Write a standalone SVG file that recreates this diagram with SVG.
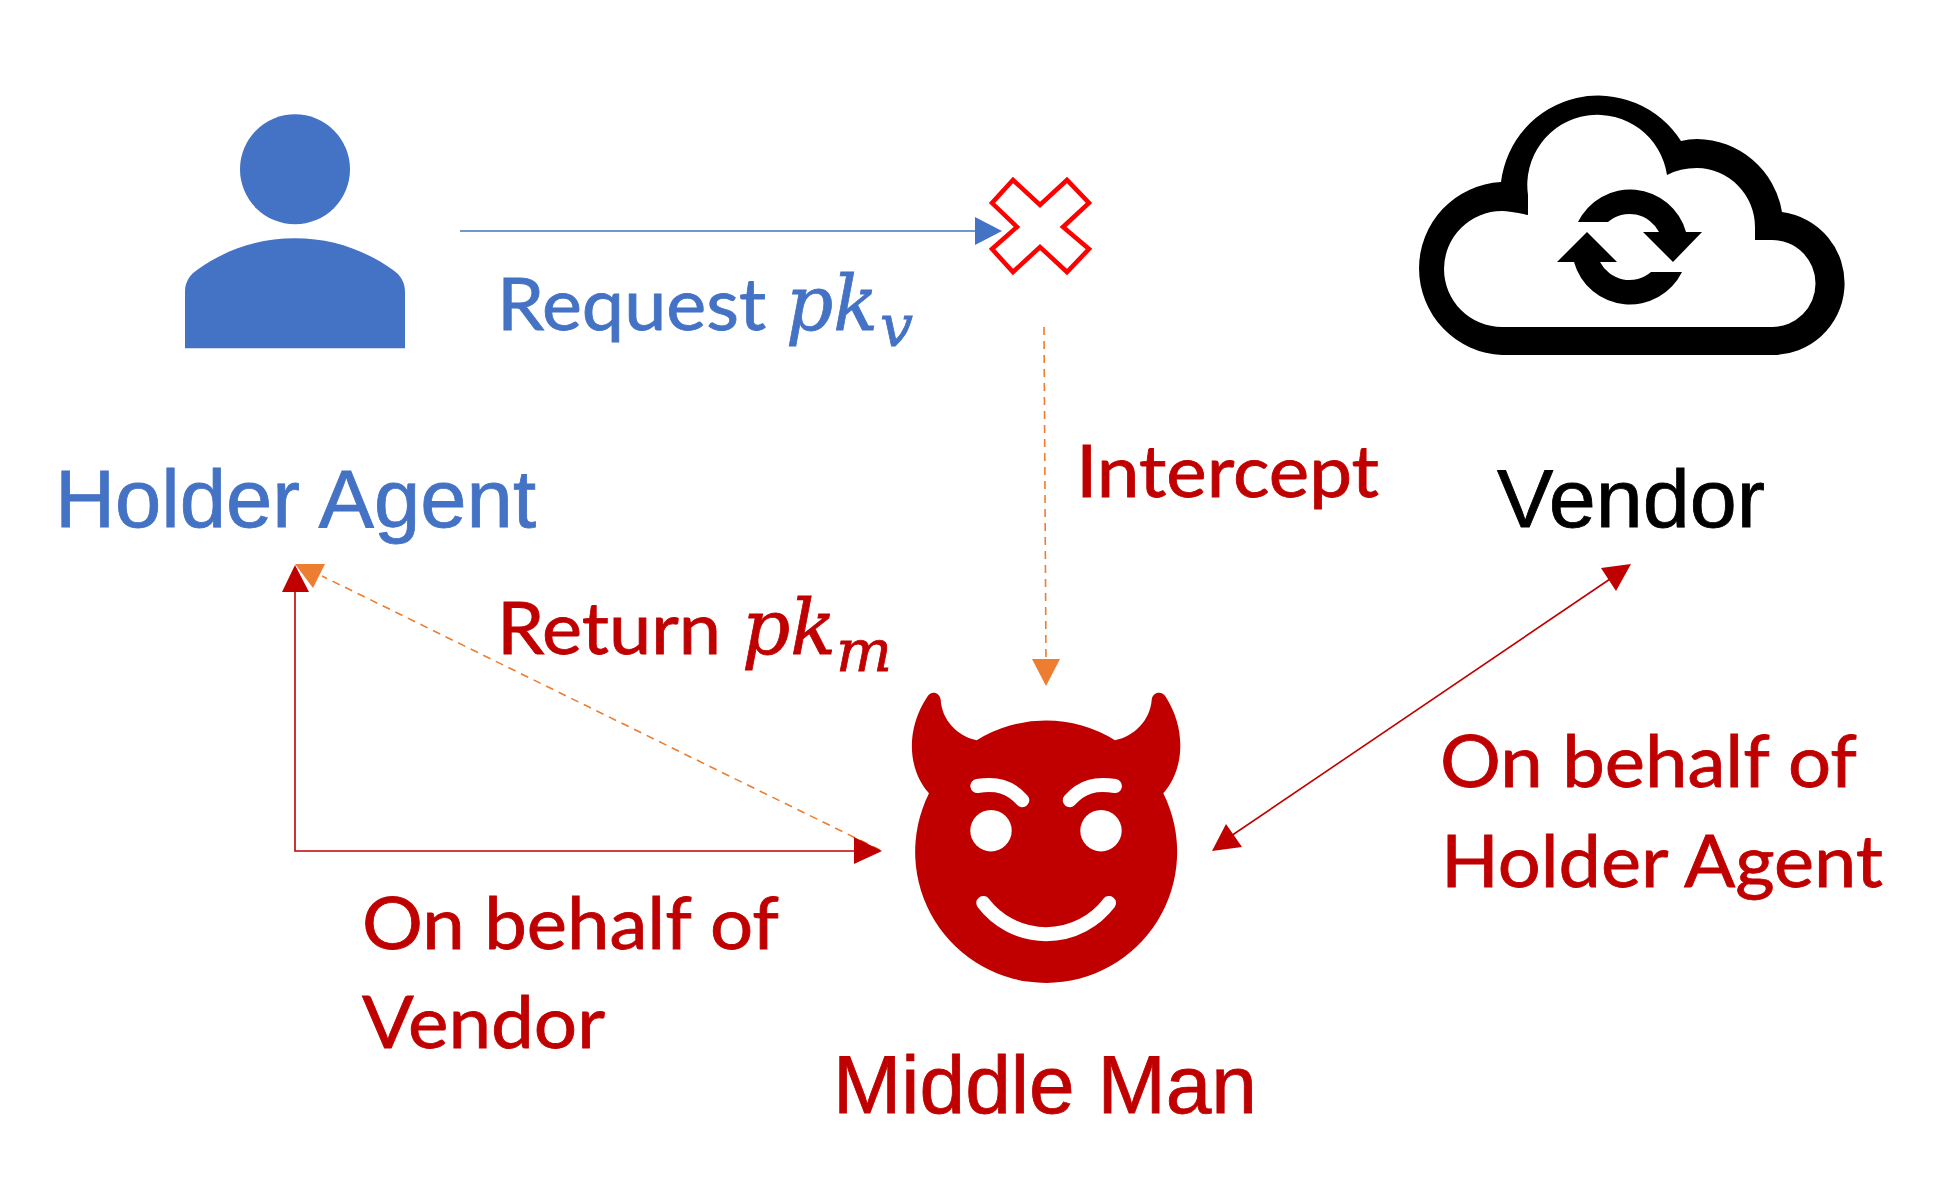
<svg xmlns="http://www.w3.org/2000/svg" width="1934" height="1182" viewBox="0 0 1934 1182">
<style>
.lato{font-family:"Lato","Carlito","Liberation Sans",sans-serif;font-size:72px}
.arial{font-family:"Liberation Sans",Arial,sans-serif;font-size:82px}
.math{font-family:"DejaVu Serif","Liberation Serif",serif;font-style:italic;font-size:77px}
.sub{font-family:"DejaVu Serif","Liberation Serif",serif;font-style:italic;font-size:58px}
.blue{fill:#4472c4}.red{fill:#c00000}.black{fill:#000}.orange{fill:#ed7d31}
text{stroke-width:.8}
text.blue{stroke:#4472c4}text.red{stroke:#c00000}text.black{stroke:#000}
.line{fill:none;stroke-width:1.6}
.dash{fill:none;stroke:#ed7d31;stroke-width:1.6;stroke-dasharray:8 6}
.cut{fill:none;stroke:#fff;stroke-width:14;stroke-linecap:round}
</style>
<rect width="1934" height="1182" fill="#fff"/>
<g id="connectors">
<path class="line" stroke="#4472c4" d="M460 231H978"/>
<polygon class="blue" points="975,217 1002,231 975,245"/>
<path class="dash" d="M1044 327L1046 662"/>
<polygon class="orange" points="1032,659 1060,659 1046,686"/>
<path class="dash" d="M880 850L322 576"/>
<polygon class="orange" points="295,564 325,564 313,588"/>
<path class="line" stroke="#c00000" d="M295 590V851H858"/>
<polygon class="red" points="295,565 309,592 282,592"/>
<polygon class="red" points="854,837 882,851 854,864"/>
<path class="line" stroke="#c00000" d="M1228 838L1613 577"/>
<polygon class="red" points="1212,851 1226,824 1242,847"/>
<polygon class="red" points="1631,564 1601,568 1616,591"/>
</g>
<g id="holder-agent">
<circle class="blue" cx="295" cy="169.3" r="55"/>
<path class="blue" d="M185 348.3V291.7C185 281 191 274 197 270C225 250 258 238.3 295 238.3C332 238.3 365 250 393 270C399 274 405 281 405 291.700V348.3Z"/>
<text class="arial blue" x="55" y="527" textLength="481" lengthAdjust="spacingAndGlyphs">Holder Agent</text>
</g>
<g id="blocked">
<polygon fill="#fff" stroke="#ff0000" stroke-width="4.5" points="1013,180 1040,205 1067,180 1089,203 1063,227 1089,249 1067,272 1040,247 1013,272 992,249 1017,227 992,203"/>
</g>
<g id="vendor">
<path fill="#000" fill-rule="evenodd" d="M1502 355H1772A71.800 71.800 0 0 0 1782 212A87 87 0 0 0 1697 139Q1689 139 1681 141A98 98 0 0 0 1501 182A86.600 86.600 0 0 0 1502 355ZM1502 327A58 58 0 0 1 1502 211Q1510 211 1528 215V195A69 69 0 0 1 1667 175Q1680 168 1697 168A59 59 0 0 1 1755 227V240H1772A43.500 43.500 0 0 1 1772 327Z"/>
<path fill="#000" d="M1578 222H1608A33 33 0 0 1 1659 232H1643L1673 262L1702 232H1686A58 58 0 0 0 1578 222Z"/>
<path fill="#000" d="M1557 262L1587 232L1617 262H1600A33 33 0 0 0 1651 272H1682A58 58 0 0 1 1574 262Z"/>
<text class="arial black" x="1497" y="527" textLength="268" lengthAdjust="spacingAndGlyphs">Vendor</text>
</g>
<g id="middle-man">
<path class="red" d="M976.700 740.300A131 131 0 0 1 1115 740.300C1135 736 1150 720 1151.700 700C1152 692 1162 690 1165.700 696.700C1187 730 1184 770 1163.300 793.300A131 131 0 1 1 929 793.300C908 770 905 730 927.300 696.700C931 690 940 692 940.700 700C942 720 957 736 976.700 740.300Z"/>
<circle cx="991" cy="830.700" r="20.700" fill="#fff"/>
<circle cx="1101" cy="830.700" r="20.700" fill="#fff"/>
<path class="cut" d="M977.300 786C996 783 1010 786 1022.300 800.300"/>
<path class="cut" d="M1115 786C1096 783 1082 786 1069.700 800.300"/>
<path class="cut" d="M983.300 903A79 79 0 0 0 1109 903"/>
<text class="arial red" x="833" y="1113" textLength="424" lengthAdjust="spacingAndGlyphs">Middle Man</text>
</g>
<g id="labels">
<text class="lato blue" x="497" y="330" textLength="269" lengthAdjust="spacingAndGlyphs">Request</text>
<text class="math blue" x="786" y="330" textLength="92" lengthAdjust="spacingAndGlyphs">pk</text>
<text class="sub blue" x="880" y="346" textLength="33" lengthAdjust="spacingAndGlyphs">v</text>
<text class="lato red" x="1076" y="497" textLength="303" lengthAdjust="spacingAndGlyphs">Intercept</text>
<text class="lato red" x="497" y="654" textLength="224" lengthAdjust="spacingAndGlyphs">Return</text>
<text class="math red" x="742" y="654" textLength="94" lengthAdjust="spacingAndGlyphs">pk</text>
<text class="sub red" x="836" y="671" textLength="56" lengthAdjust="spacingAndGlyphs">m</text>
<text class="lato red" x="362" y="949" textLength="417" lengthAdjust="spacingAndGlyphs">On behalf of</text>
<text class="lato red" x="362" y="1048" textLength="243" lengthAdjust="spacingAndGlyphs">Vendor</text>
<text class="lato red" x="1440" y="787" textLength="417" lengthAdjust="spacingAndGlyphs">On behalf of</text>
<text class="lato red" x="1441" y="887" textLength="442" lengthAdjust="spacingAndGlyphs">Holder Agent</text>
</g>
</svg>
